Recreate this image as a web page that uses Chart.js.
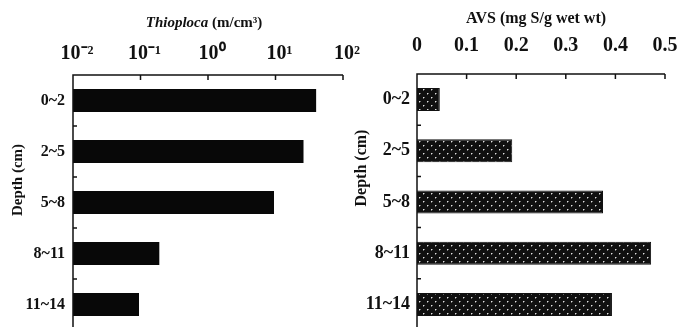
<!DOCTYPE html>
<html><head><meta charset="utf-8">
<script src="https://cdn.jsdelivr.net/npm/chart.js@4/dist/chart.umd.min.js"></script>
<style>
html,body{margin:0;padding:0;background:#fff;overflow:hidden;width:685px;height:327px;}
#l{position:absolute;left:0;top:0;width:370px;height:330px;z-index:2;}
#r{position:absolute;left:350px;top:0;width:335px;height:330px;z-index:1;}
</style></head><body>
<div id="l"><canvas id="c1"></canvas></div>
<div id="r"><canvas id="c2"></canvas></div>
<script>
// ---- data ----
const depthLabels = ['0~2', '2~5', '5~8', '8~11', '11~14'];
const thioplocaValues = [40, 26, 9.5, 0.19, 0.095];      // m/cm3 (log scale)
const avsValues = [0.046, 0.192, 0.375, 0.472, 0.393];   // mg S/g wet wt
const logTickLabels = ['10⁻²', '10⁻¹', '10⁰', '10¹', '10²'];
const avsTickValues = [0, 0.1, 0.2, 0.3, 0.4, 0.5];
const avsTickLabels = ['0', '0.1', '0.2', '0.3', '0.4', '0.5'];

const FAM = '"Liberation Serif", "Times New Roman", serif';

// dotted (screen-tone) pattern for AVS bars
function makePattern() {
  const c = document.createElement('canvas');
  c.width = 8; c.height = 8;
  const g = c.getContext('2d');
  g.fillStyle = '#101010'; g.fillRect(0, 0, 8, 8);
  g.fillStyle = '#e0e0e0';
  g.fillRect(1, 1, 1, 1);
  g.fillRect(5, 5, 1, 1);
  g.fillStyle = '#707070';
  g.fillRect(2, 1, 1, 1);
  g.fillRect(6, 5, 1, 1);
  g.fillRect(1, 2, 1, 1);
  g.fillRect(5, 6, 1, 1);
  return g.createPattern(c, 'repeat');
}

const framePlugin = {
  id: 'frame',
  afterDraw(chart, args, o) {
    const {ctx, chartArea: a, scales: {x, y}} = chart;
    ctx.save();
    ctx.strokeStyle = '#111';
    ctx.lineWidth = 1.5;
    ctx.beginPath();
    ctx.moveTo(a.left, a.bottom + 5);
    ctx.lineTo(a.left, a.top);
    ctx.lineTo(a.right, a.top);
    x.ticks.forEach(t => {
      const px = x.getPixelForValue(t.value);
      ctx.moveTo(px, a.top); ctx.lineTo(px, a.top + 5);
    });
    for (let i = 1; i < y.ticks.length; i++) {
      const py = (y.getPixelForTick(i - 1) + y.getPixelForTick(i)) / 2;
      ctx.moveTo(a.left, py); ctx.lineTo(a.left + 4, py);
    }
    ctx.stroke();
    // top title (mixed styles)
    ctx.fillStyle = '#111';
    ctx.textBaseline = 'middle';
    let w = 0;
    o.title.forEach(p => { ctx.font = p.style + ' ' + o.size + 'px ' + FAM; w += ctx.measureText(p.text).width; });
    let cx = o.titleX - w / 2;
    ctx.textAlign = 'left';
    o.title.forEach(p => { ctx.font = p.style + ' ' + o.size + 'px ' + FAM; ctx.fillText(p.text, cx, o.titleY); cx += ctx.measureText(p.text).width; });
    // y title
    ctx.translate(o.yTitleX, o.yTitleY);
    ctx.rotate(-Math.PI / 2);
    ctx.textAlign = 'center';
    ctx.font = 'bold ' + o.size + 'px ' + FAM;
    ctx.fillText(o.yTitle, 0, 0);
    ctx.restore();
  }
};

Chart.defaults.font.family = FAM;
Chart.defaults.color = '#111';

function noPad(s) { s.paddingLeft = 0; s.paddingRight = 0; s.paddingTop = 0; s.paddingBottom = 0; }

new Chart(document.getElementById('c1'), {
  type: 'bar',
  data: {
    labels: depthLabels,
    datasets: [{ data: thioplocaValues, backgroundColor: '#080808', borderWidth: 0,
      barPercentage: 0.45, categoryPercentage: 1 }]
  },
  options: {
    indexAxis: 'y', responsive: true, maintainAspectRatio: false, animation: false,
    devicePixelRatio: 1,
    layout: { padding: { left: 0, top: 0, right: 27, bottom: 0 } },
    plugins: {
      legend: { display: false }, tooltip: { enabled: false },
      frame: {
        title: [{ text: 'Thioploca', style: 'italic bold' }, { text: ' (m/cm³)', style: 'bold' }],
        size: 15, titleX: 204, titleY: 23, yTitle: 'Depth (cm)', yTitleX: 18, yTitleY: 180
      }
    },
    scales: {
      x: {
        type: 'logarithmic', position: 'top', min: 0.01, max: 100,
        grid: { display: false, drawTicks: false }, border: { display: false },
        afterBuildTicks: s => {
          s.ticks = s.ticks.filter(t => { const l = Math.log10(t.value); return Math.abs(l - Math.round(l)) < 1e-9; });
        },
        ticks: {
          autoSkip: false, maxRotation: 0, padding: 9, labelOffset: 4,
          font: { size: 20, weight: 'bold' },
          callback: (v, i) => logTickLabels[i]
        },
        afterFit: s => { s.height = 75; noPad(s); }
      },
      y: {
        offset: true,
        grid: { display: false, drawTicks: false }, border: { display: false },
        ticks: { padding: 8, font: { size: 16, weight: 'bold' } },
        afterFit: s => { s.width = 73; noPad(s); }
      }
    }
  },
  plugins: [framePlugin]
});

new Chart(document.getElementById('c2'), {
  type: 'bar',
  data: {
    labels: depthLabels,
    datasets: [{ data: avsValues, backgroundColor: makePattern(), borderColor: '#111', borderWidth: 1,
      barPercentage: 0.45, categoryPercentage: 1 }]
  },
  options: {
    indexAxis: 'y', responsive: true, maintainAspectRatio: false, animation: false,
    devicePixelRatio: 1,
    layout: { padding: { left: 0, top: 0, right: 20, bottom: 0 } },
    plugins: {
      legend: { display: false }, tooltip: { enabled: false },
      frame: {
        title: [{ text: 'AVS (mg S/g wet wt)', style: 'bold' }],
        size: 16, titleX: 186, titleY: 19, yTitle: 'Depth (cm)', yTitleX: 12, yTitleY: 168
      }
    },
    scales: {
      x: {
        type: 'linear', position: 'top', min: 0, max: 0.5,
        grid: { display: false, drawTicks: false }, border: { display: false },
        afterBuildTicks: s => { s.ticks = avsTickValues.map(v => ({ value: v })); },
        ticks: {
          autoSkip: false, maxRotation: 0, padding: 16,
          font: { size: 20, weight: 'bold' },
          callback: (v, i) => avsTickLabels[i]
        },
        afterFit: s => { s.height = 74; noPad(s); }
      },
      y: {
        offset: true,
        grid: { display: false, drawTicks: false }, border: { display: false },
        ticks: { padding: 7, font: { size: 18, weight: 'bold' } },
        afterFit: s => { s.width = 67; noPad(s); }
      }
    }
  },
  plugins: [framePlugin]
});
</script>
</body></html>
